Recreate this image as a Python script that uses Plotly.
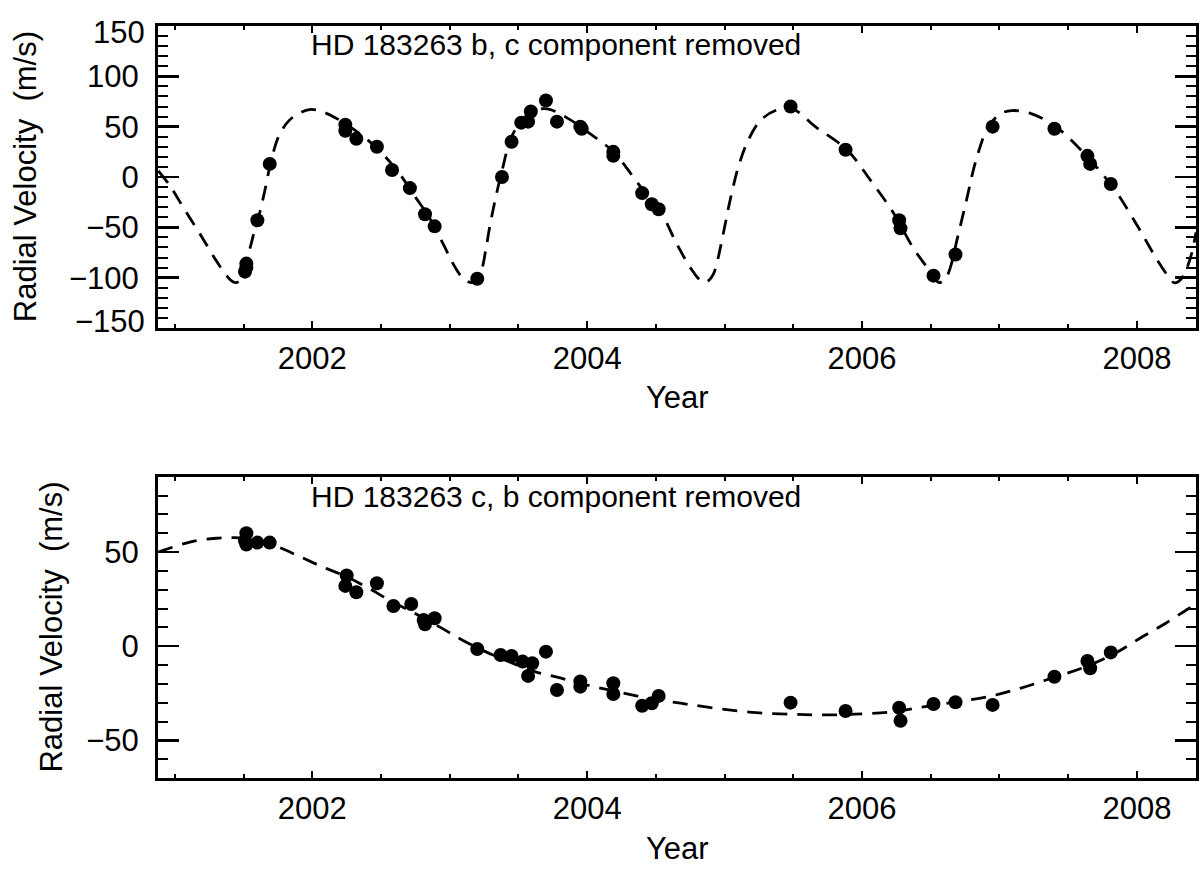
import plotly.graph_objects as go

# ---------------- data ----------------
# Top panel: HD 183263 b (c component removed)
b_obs_year = [2001.51, 2001.52, 2001.52, 2001.60, 2001.69, 2002.24, 2002.24, 2002.32,
              2002.47, 2002.58, 2002.71, 2002.82, 2002.89, 2003.20, 2003.38, 2003.45,
              2003.52, 2003.57, 2003.59, 2003.70, 2003.78, 2003.95, 2003.96, 2004.19,
              2004.19, 2004.40, 2004.47, 2004.52, 2005.48, 2005.88, 2006.27, 2006.28,
              2006.52, 2006.68, 2006.95, 2007.40, 2007.64, 2007.66, 2007.81]
b_obs_rv = [-94, -86, -90, -43, 13, 52, 46, 38,
            30, 7, -11, -37, -49, -101, 0, 35,
            54, 55, 65, 76, 55, 50, 48, 25,
            21, -16, -27, -32, 70, 27, -43, -51,
            -98, -77, 50, 48, 21, 13, -7]

b_fit_year = [2000.88, 2000.96, 2001.06, 2001.18, 2001.30, 2001.37, 2001.41, 2001.44,
              2001.47, 2001.50, 2001.54, 2001.58, 2001.62, 2001.66, 2001.70, 2001.76,
              2001.83, 2001.90, 2001.98, 2002.07, 2002.24, 2002.46, 2002.63, 2002.75,
              2002.85, 2002.95, 2003.04, 2003.10, 2003.16, 2003.19, 2003.23, 2003.26,
              2003.29, 2003.33, 2003.38, 2003.45, 2003.55, 2003.69, 2003.85, 2004.02,
              2004.19, 2004.39, 2004.54, 2004.65, 2004.75, 2004.81, 2004.85, 2004.89,
              2004.92, 2004.95, 2004.98, 2005.01, 2005.04, 2005.10, 2005.17, 2005.26,
              2005.37, 2005.49, 2005.66, 2005.89, 2006.06, 2006.23, 2006.37, 2006.49,
              2006.53, 2006.56, 2006.59, 2006.62, 2006.655, 2006.69, 2006.76, 2006.83,
              2006.92, 2007.01, 2007.09, 2007.23, 2007.41, 2007.64, 2007.84, 2008.01,
              2008.15, 2008.23, 2008.27, 2008.30, 2008.33, 2008.36, 2008.40, 2008.43]
b_fit_rv = [6, -8, -30, -56, -83, -97, -103, -105,
            -103, -92, -74, -53, -34, -10, 16, 42,
            56, 63, 67, 65, 53, 30, 4, -20,
            -40, -66, -90, -101, -105, -103, -93, -74,
            -50, -23, 6, 40, 60, 68, 59, 43,
            25, -10, -36, -66, -90, -101, -105, -102,
            -96, -82, -63, -43, -23, 10, 36, 56,
            66, 68, 50, 27, -3, -36, -70, -93,
            -101, -105, -103, -98, -84, -63, -23, 17,
            50, 63, 66, 63, 50, 20, -13, -50,
            -83, -99, -105, -104, -100, -92, -75, -55]

# Bottom panel: HD 183263 c (b component removed)
c_obs_year = [2001.52, 2001.51, 2001.52, 2001.60, 2001.69, 2002.25, 2002.24, 2002.32,
              2002.47, 2002.59, 2002.72, 2002.81, 2002.82, 2002.89, 2003.20, 2003.37,
              2003.45, 2003.53, 2003.57, 2003.60, 2003.70, 2003.78, 2003.95, 2003.95,
              2004.19, 2004.19, 2004.40, 2004.47, 2004.52, 2005.48, 2005.88, 2006.27,
              2006.28, 2006.52, 2006.68, 2006.95, 2007.40, 2007.64, 2007.66, 2007.81]
c_obs_rv = [60, 56, 54, 55, 55, 37.5, 32, 28.6,
            33.4, 21.3, 22.4, 13.9, 11.6, 14.8, -1.5, -4.7,
            -5.2, -8.2, -15.8, -9.1, -2.9, -23.3, -18.8, -21.5,
            -19.7, -25.4, -31.6, -30.3, -26.4, -30, -34.4, -32.7,
            -39.6, -30.7, -29.8, -31.2, -16.2, -7.9, -11.7, -3.3]

c_fit_year = [2000.88, 2000.96, 2001.06, 2001.18, 2001.30, 2001.42, 2001.54, 2001.74,
              2001.91, 2002.07, 2002.22, 2002.39, 2002.56, 2002.70, 2002.90, 2003.09,
              2003.26, 2003.43, 2003.62, 2003.81, 2004.02, 2004.22, 2004.45, 2004.68,
              2004.94, 2005.23, 2005.51, 2005.74, 2006.00, 2006.23, 2006.46, 2006.69,
              2006.92, 2007.15, 2007.38, 2007.61, 2007.84, 2008.04, 2008.21, 2008.36,
              2008.43]
c_fit_rv = [50, 52, 54.3, 56.4, 57.3, 57.6, 57, 53,
            47.5, 42.2, 37.8, 31.6, 24.5, 19.2, 11.3, 3.3,
            -2.9, -8.2, -13.5, -17, -21, -24.2, -27.7, -30.3,
            -33, -35.3, -36.2, -36.5, -36, -34.8, -32.1, -29.5,
            -26.8, -22.4, -17, -11.4, -3.8, 5, 12.2, 19.2,
            22]

year_ticks = [2002, 2004, 2006, 2008]
b_yticks = [-150, -100, -50, 0, 50, 100, 150]
c_yticks = [-50, 0, 50]

label_b = "HD 183263 b, c component removed"
label_c = "HD 183263 c, b component removed"
ytitle = "Radial Velocity\u00a0 (m/s)"
xtitle = "Year"

# ---------------- figure ----------------
FONT = "Liberation Sans, Arial, Helvetica, sans-serif"
FS_TICK = 31
FS_TITLE = 31
FS_LABEL = 30

fig = go.Figure()

line_style = dict(color="black", width=2.8, dash="15px,10px")
marker_style = dict(color="black", size=14, symbol="circle")

fig.add_trace(go.Scatter(x=b_fit_year, y=b_fit_rv, mode="lines", line=line_style,
                         line_shape="spline", xaxis="x", yaxis="y", showlegend=False,
                         hoverinfo="skip"))
fig.add_trace(go.Scatter(x=b_obs_year, y=b_obs_rv, mode="markers", marker=marker_style,
                         xaxis="x", yaxis="y", showlegend=False))
fig.add_trace(go.Scatter(x=c_fit_year, y=c_fit_rv, mode="lines", line=line_style,
                         line_shape="spline", xaxis="x2", yaxis="y2", showlegend=False,
                         hoverinfo="skip"))
fig.add_trace(go.Scatter(x=c_obs_year, y=c_obs_rv, mode="markers", marker=marker_style,
                         xaxis="x2", yaxis="y2", showlegend=False))

XR = [2000.877, 2008.43]
tickfont = dict(family=FONT, size=FS_TICK, color="black")

common_x = dict(range=XR, tickmode="array", tickvals=year_ticks,
                ticktext=[str(v) for v in year_ticks],
                ticks="inside", ticklen=7, tickwidth=2.2, tickcolor="black",
                minor=dict(dtick=0.5, tick0=2000, ticks="inside", ticklen=4,
                           tickwidth=2, tickcolor="black", showgrid=False),
                showline=True, linewidth=3, linecolor="black", mirror="allticks",
                showgrid=False, zeroline=False,
                tickfont=tickfont, ticklabelstandoff=1)

common_y = dict(ticks="inside", ticklen=21, tickwidth=2.4, tickcolor="black",
                minor=dict(dtick=10, tick0=0, ticks="inside", ticklen=10,
                           tickwidth=2, tickcolor="black", showgrid=False),
                showline=True, linewidth=3, linecolor="black", mirror="allticks",
                showgrid=False, zeroline=False,
                tickfont=tickfont, ticklabelstandoff=10)

b_ticktext = [("" if abs(v) == 150 else str(v).replace("-", "\u2212")) for v in b_yticks]

fig.update_layout(
    width=1201, height=871,
    margin=dict(l=158, r=2, t=26, b=93),
    paper_bgcolor="white", plot_bgcolor="white",
    font=dict(family=FONT, size=FS_TICK, color="black"),
    xaxis=dict(domain=[0, 1], anchor="y", **common_x),
    yaxis=dict(domain=[0.5984, 1.0], anchor="x", range=[-150, 150],
               tickmode="array", tickvals=b_yticks, ticktext=b_ticktext, **common_y),
    xaxis2=dict(domain=[0, 1], anchor="y2", **common_x),
    yaxis2=dict(domain=[0, 0.4007], anchor="x2", range=[-70, 90],
                tickmode="array", tickvals=c_yticks,
                ticktext=[str(v).replace("-", "\u2212") for v in c_yticks], **common_y),
)

ann = []
# edge tick labels of the upper panel, drawn slightly inside as in the reference
ann.append(dict(text="150", xref="paper", x=0, xanchor="right", xshift=-11,
                yref="y", y=150, yanchor="middle", yshift=-6, showarrow=False,
                font=tickfont))
ann.append(dict(text="\u2212150", xref="paper", x=0, xanchor="right", xshift=-11,
                yref="y", y=-150, yanchor="middle", yshift=7, showarrow=False,
                font=tickfont))
# panel labels
lab_font = dict(family=FONT, size=FS_LABEL, color="black")
ann.append(dict(text=label_b, xref="paper", x=0.145, xanchor="left",
                yref="paper", y=0.976, yanchor="middle", showarrow=False, font=lab_font))
ann.append(dict(text=label_c, xref="paper", x=0.145, xanchor="left",
                yref="paper", y=0.3737, yanchor="middle", showarrow=False, font=lab_font))
# axis titles
title_font = dict(family=FONT, size=FS_TITLE, color="black")
for yc in (0.5066, -0.0944):
    ann.append(dict(text=xtitle, xref="paper", x=0.5, xanchor="center",
                    yref="paper", y=yc, yanchor="middle", showarrow=False,
                    font=title_font))
ann.append(dict(text=ytitle, xref="paper", x=0, xanchor="center", xshift=-133,
                yref="paper", y=0.799, yanchor="middle", textangle=-90, showarrow=False,
                font=title_font))
ann.append(dict(text=ytitle, xref="paper", x=0, xanchor="center", xshift=-106,
                yref="paper", y=0.2, yanchor="middle", textangle=-90, showarrow=False,
                font=title_font))
fig.update_layout(annotations=ann)

fig.write_html("out.html",
               config={"displayModeBar": False, "staticPlot": True},
               post_script="document.body.style.margin='0px';"
                           "document.body.style.overflow='hidden';")
